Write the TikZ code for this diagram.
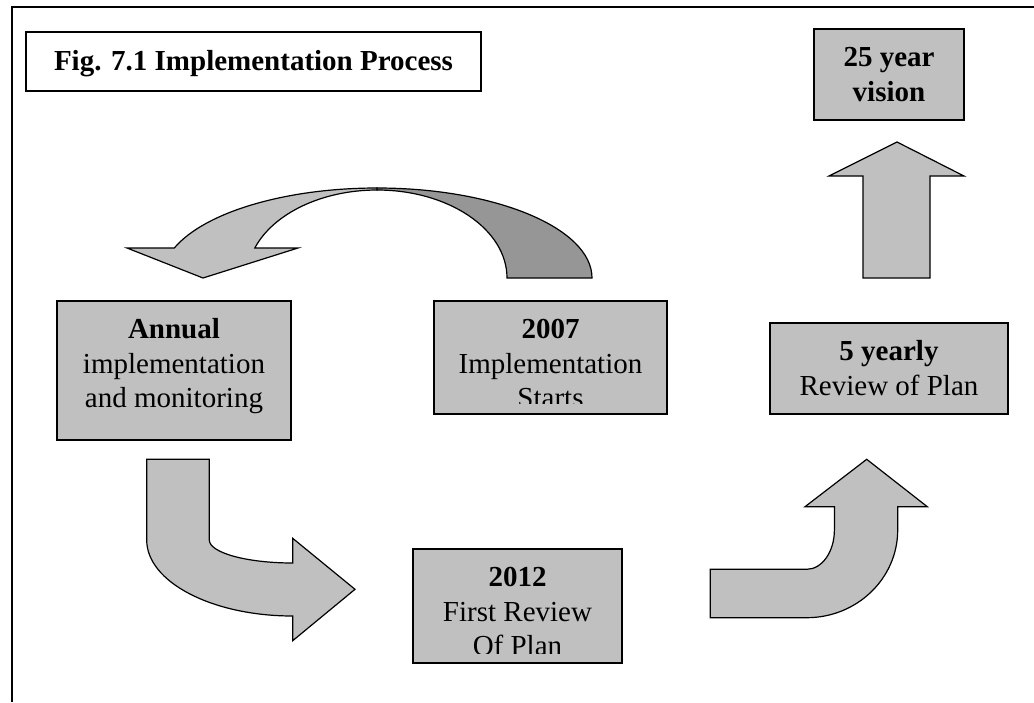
\documentclass[tikz,border=0pt]{standalone}
\usepackage{fontspec}
\setmainfont{Liberation Serif}
\usetikzlibrary{positioning}
\definecolor{boxgray}{RGB}{192,192,192}
\definecolor{backgray}{RGB}{150,150,150}

\begin{document}
\begin{tikzpicture}[x=1pt,y=-1pt,
  graybox/.style={draw,line width=1.2pt,fill=boxgray,inner sep=0pt,outer sep=0pt},
  boxtext/.style={align=center,inner sep=0pt,font=\fontsize{29}{34.5}\selectfont},
  blockarrow/.style={draw,line width=1.2pt,fill=boxgray,line join=miter},
  backarrow/.style={draw,line width=1.2pt,fill=backgray}]
\useasboundingbox (0,0) rectangle (1034,702);
\draw[line width=1.3pt] (1034,7) -- (12,7) -- (12,702);

% title
\node[draw,line width=1.2pt,fill=white,minimum width=455pt,minimum height=59pt,inner sep=0pt,
  text height=25pt,text depth=6.6pt,font=\fontsize{29}{34.5}\selectfont\bfseries]
  (title) at (253.5,61.5) {Fig. 7.1 Implementation Process};

% boxes
\node[graybox,minimum width=150pt,minimum height=91pt] (visionbox) at (889,74.5) {};
\node[boxtext,below=13.5pt of visionbox.north] (vision)
  {\strut\textbf{25 year}\\\textbf{vision}};

\node[graybox,minimum width=238pt,minimum height=91pt] (fivebox) at (889,368.5) {};
\node[boxtext,below=13.5pt of fivebox.north] (five)
  {\strut\textbf{5 yearly}\\Review of Plan};

\node[graybox,minimum width=234pt,minimum height=139pt] (annualbox) at (174,370.5) {};
\node[boxtext,below=13.5pt of annualbox.north] (annual)
  {\strut\textbf{Annual}\\implementation\\and monitoring};

\node[graybox,minimum width=233pt,minimum height=113pt] (startbox) at (550.5,357.5) {};
\begin{scope}
\clip (startbox.north west) rectangle ([yshift=11pt]startbox.south east);
\node[boxtext,below=13.5pt of startbox.north] (start)
  {\strut\textbf{2007}\\Implementation\\Starts};
\end{scope}

\node[graybox,minimum width=209pt,minimum height=114pt] (reviewbox) at (517.5,606) {};
\begin{scope}
\clip (reviewbox.north west) rectangle ([yshift=10pt]reviewbox.south east);
\node[boxtext,below=13.5pt of reviewbox.north] (review)
  {\strut\textbf{2012}\\First Review\\Of Plan};
\end{scope}

% curved arrow over the top
\draw[backarrow] (377,188) arc[start angle=-90,end angle=0,x radius=215,y radius=90]
  -- (507,278) arc[start angle=0,end angle=-90,x radius=130,y radius=88] -- cycle;
\draw[blockarrow] (377,188) arc[start angle=-90,end angle=-160.53,x radius=215,y radius=90]
  -- (127,248) -- (203,278) -- (298,248) -- (254.8,248)
  arc[start angle=-160.06,end angle=-90,x radius=130,y radius=88] -- cycle;

% bent arrow down and right
\draw[blockarrow] (146.7,459.3) -- (209.3,459.3) -- (209.3,540)
  arc[start angle=180,end angle=90,x radius=83.4,y radius=23]
  -- (292.7,538.3) -- (355,589.3) -- (292.7,640.7) -- (292.7,616)
  arc[start angle=90,end angle=180,x radius=146,y radius=76] -- cycle;

% bent arrow right and up
\draw[blockarrow] (710.3,569.3) -- (806.7,569.3)
  arc[start angle=90,end angle=0,x radius=27.7,y radius=39.3]
  -- (834.4,506.7) -- (805,506.7) -- (866.7,459.3) -- (927.3,506.7) -- (897.7,506.7)
  -- (897.7,530) arc[start angle=0,end angle=90,x radius=91,y radius=87.7]
  -- (710.3,617.7) -- cycle;

% straight arrow up
\draw[blockarrow] (863,278) -- (863,176) -- (829,176) -- (897,142) -- (964,176)
  -- (930,176) -- (930,278) -- cycle;
\end{tikzpicture}
\end{document}
